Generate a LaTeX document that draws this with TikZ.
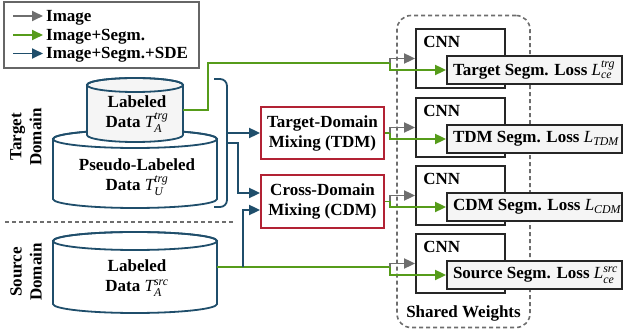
\documentclass[tikz,border=0pt]{standalone}
\usepackage{fontspec}
\usepackage{amsmath}
\setmainfont{Liberation Serif}
\usetikzlibrary{arrows.meta,positioning}

\definecolor{dbblue}{RGB}{31,78,107}
\definecolor{seggreen}{RGB}{86,156,26}
\definecolor{imggray}{RGB}{110,110,110}
\definecolor{mixred}{RGB}{178,34,52}
\definecolor{lossgray}{RGB}{245,245,245}

\newcommand{\itx}[1]{\text{\mdseries\itshape #1}}
% cylinder: centre x, x radius, top ellipse y, bottom ellipse y, y radius, fill
\newcommand{\dbcyl}[6]{%
  \draw[dbline,fill=#6] (#1-#2,#3) -- (#1-#2,#4)
    arc[start angle=180,end angle=360,x radius=#2pt,y radius=#5pt]
    -- (#1+#2,#3)
    arc[start angle=0,end angle=180,x radius=#2pt,y radius=#5pt] -- cycle;
  \draw[dbline] (#1,#3) ellipse[x radius=#2pt,y radius=#5pt];}

\begin{document}
\begin{tikzpicture}[x=1pt,y=-1pt,
  font=\fontsize{17}{20}\selectfont\bfseries,
  dbline/.style={draw=dbblue,line width=1.8pt},
  sdeline/.style={draw=dbblue,line width=1.8pt},
  segline/.style={draw=seggreen,line width=1.8pt},
  imgline/.style={draw=imggray,line width=1.8pt},
  arr/.style={-{Triangle[length=11pt,width=10pt]}},
  mixbox/.style={draw=mixred,line width=1.8pt,fill=white,minimum width=123pt,minimum height=52pt,align=center,inner sep=0pt},
  cnnbox/.style={draw=black!85,line width=1.8pt,fill=white,minimum width=89pt,minimum height=59pt},
  lossbox/.style={draw=black!85,line width=1.8pt,fill=lossgray,minimum height=28pt,inner xsep=6pt,inner ysep=0pt}]
\useasboundingbox (0,0) rectangle (627,336);

% legend
\node[draw=black!60,line width=1.2pt,minimum width=195pt,minimum height=66pt] (legend) at (101.5,35) {};
\foreach \i/\y/\s/\t in {1/16/imgline/Image, 2/35/segline/Image+Segm., 3/53.5/sdeline/Image+Segm.+SDE}{
  \coordinate (leg\i) at (13,\y);
  \draw[\s,arr] (leg\i) -- ++(30,0);
  \node[anchor=base west,inner sep=0pt] (leg\i-txt) at (46,\y+5.5) {\t};
}

% data
\dbcyl{135}{82}{139}{199}{9}{white}
\dbcyl{135}{48}{85}{135}{7}{lossgray}
\dbcyl{135}{82}{241}{304}{9}{white}
\node[align=center] (lblT) at (137,114) {Labeled\\Data $\itx{T}^{\itx{trg}}_{\itx{A}}$};
\node[align=center] (pseudoT) at (137,177) {Pseudo-Labeled\\Data $\itx{T}^{\itx{trg}}_{\itx{U}}$};
\node[align=center] (srcA) at (137,278) {Labeled\\Data $\itx{T}^{\itx{src}}_{\itx{A}}$};
\coordinate (lblT-out) at (183,110);
\coordinate (srcA-out) at (217,267);

\node[rotate=90,align=center] (tgtdom) at (26,137) {Target\\Domain};
\node[rotate=90,align=center] (srcdom) at (26,272) {Source\\Domain};
\draw[imggray,line width=1.4pt,dash pattern=on 4pt off 3pt] (5,222) -- (233,222);

% bracket
\draw[dbline,rounded corners=7pt] (214,79) -- (227,79) -- (227,207) -- (214,207);
\coordinate (brk-tdm) at (227,133);
\coordinate (brk-cdm) at (227,143);

% mixing
\node[mixbox] (tdm) at (322.5,133) {Target-Domain\\Mixing (TDM)};
\node[mixbox,minimum height=53pt] (cdm) at (322.5,201.5) {Cross-Domain\\Mixing (CDM)};

% shared network
\node[draw=imggray,dash pattern=on 4pt off 3pt,line width=1.6pt,rounded corners=14pt,minimum width=133pt,minimum height=312pt] (shared) at (463.5,171.5) {};
\node (sharedtxt) at (463.5,313) {Shared Weights};
\foreach \i/\y/\txt in {1/58.5/{Target Segm. Loss $\itx{L}^{\itx{trg}}_{\itx{ce}}$},
    2/127.5/{TDM Segm. Loss $\itx{L}_{\itx{TDM}}$},
    3/195.5/{CDM Segm. Loss $\itx{L}_{\itx{CDM}}$},
    4/263.5/{Source Segm. Loss $\itx{L}^{\itx{src}}_{\itx{ce}}$}}{
  \node[cnnbox] (cnn\i) at (460.5,\y) {};
  \node[anchor=north west,inner sep=0pt] (cnn\i-txt) at ([xshift=8pt,yshift=-8pt]cnn\i.north west) {CNN};
  \node[lossbox] (loss\i) at (534.5,\y+11.5) {\makebox[163pt][l]{\txt}};
}
\coordinate (sp1) at (390,63);
\coordinate (sp2) at (390,133);
\coordinate (sp3) at (390,201.5);
\coordinate (sp4) at (390,267);

% connectors
\draw[segline] (lblT-out) -- ++(25,0) |- (sp1);
\draw[sdeline,arr] (brk-tdm) -- (tdm.west);
\draw[sdeline,arr] (brk-cdm) -- ++(11,0) |- ([yshift=8.5pt]cdm.west);
\draw[segline] (srcA-out) -- (sp4);
\draw[sdeline,arr] (srcA-out) ++(26,0) |- ([yshift=-8.5pt]cdm.west);
\draw[segline] (tdm.east) -- (sp2);
\draw[segline] (cdm.east) -- (sp3);
\foreach \i in {1,...,4}{
  \draw[imgline,arr] (sp\i) |- (cnn\i.west);
  \draw[segline,arr] (sp\i) |- (loss\i.west);
}
\end{tikzpicture}
\end{document}
